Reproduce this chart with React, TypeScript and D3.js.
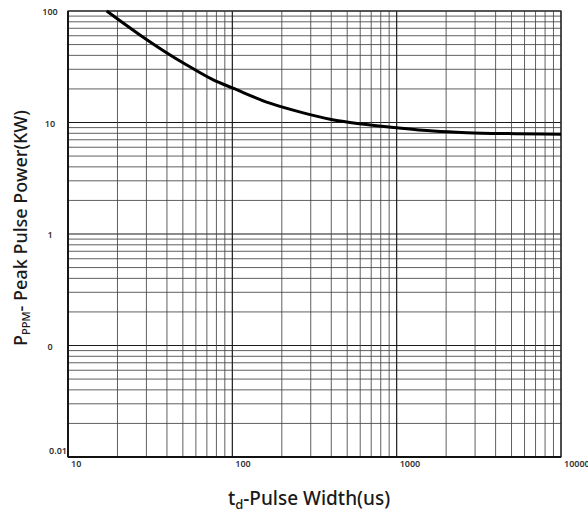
import React from 'react';
import * as d3 from 'd3';

// pulse width (us) vs peak pulse power (kW)
const pulseWidth = [17.2, 27.4, 38.9, 52.8, 76.6, 101, 169, 270, 393, 520, 1000, 1671, 2670, 5260, 10000];
const peakPower = [100, 61, 43.2, 32.8, 24.1, 20.3, 14.9, 12.2, 10.7, 10.0, 8.98, 8.39, 8.11, 7.94, 7.83];

const xTicks = [10, 100, 1000, 10000];
const xTickLabels = ['10', '100', '1000', '10000'];
const yTicks = [100, 10, 1, 0.1, 0.01];
const yTickLabels = ['100', '10', '1', '0', '0.01'];

const W = 588;
const H = 514;
const margin = { top: 11, right: 27, bottom: 57, left: 68 };

export default function App() {
  const x = d3.scaleLog().domain([10, 10000]).range([margin.left, W - margin.right]);
  const y = d3.scaleLog().domain([0.01, 100]).range([H - margin.bottom, margin.top]);

  // grid: 1..9 per decade
  const xGrid: { v: number; major: boolean }[] = [];
  [10, 100, 1000].forEach(d => {
    for (let k = 1; k < 10; k++) xGrid.push({ v: k * d, major: k === 1 });
  });
  xGrid.push({ v: 10000, major: true });

  const yGrid: { v: number; major: boolean }[] = [];
  [0.01, 0.1, 1, 10].forEach(d => {
    for (let k = 1; k < 10; k++) yGrid.push({ v: k * d, major: k === 1 });
  });
  yGrid.push({ v: 100, major: true });

  const pts = pulseWidth.map((p, i) => [x(p), y(peakPower[i])] as [number, number]);
  const path = d3.line().curve(d3.curveMonotoneX)(pts) || '';

  const [x0, x1] = x.range();
  const [y0, y1] = y.range();
  const font = '"Noto Sans", "DejaVu Sans", sans-serif';

  return (
    <svg width={W} height={H} style={{ position: 'absolute', left: 0, top: 0, background: '#fff' }}>
      {/* horizontal grid */}
      {yGrid.map((g, i) => (
        <line key={'h' + i} x1={x0} x2={x1} y1={y(g.v)} y2={y(g.v)}
          stroke={g.major ? '#1a1a1a' : '#444'} strokeOpacity={g.major ? 1 : 0.85}
          strokeWidth={g.major ? 1.2 : 1} />
      ))}
      {/* vertical grid */}
      {xGrid.map((g, i) => (
        <line key={'v' + i} x1={x(g.v)} x2={x(g.v)} y1={y0} y2={y1}
          stroke={g.major ? '#1a1a1a' : '#444'} strokeOpacity={g.major ? 1 : 0.85}
          strokeWidth={g.major ? 1.2 : 1} />
      ))}
      {/* frame */}
      <rect x={x0} y={y1} width={x1 - x0} height={y0 - y1} fill="none" stroke="#333" strokeWidth={1.2} />
      <line x1={x0} x2={x0} y1={y1} y2={y0} stroke="#111" strokeWidth={1.8} />
      <line x1={x0} x2={x1} y1={y0} y2={y0} stroke="#111" strokeWidth={1.8} />

      {/* curve */}
      <path d={path} fill="none" stroke="#000" strokeWidth={3} />

      {/* y tick labels */}
      {yTicks.map((t, i) => {
        const last = i === yTicks.length - 1;
        return (
          <text key={'yt' + i} x={last ? x0 - 1 : 50} y={y(t) + (last ? -5 : 2)}
            textAnchor={last ? 'end' : 'middle'} dominantBaseline="middle"
            fontFamily={font} fontSize={9} fontWeight={600} fill="#333">
            {yTickLabels[i]}
          </text>
        );
      })}
      {/* x tick labels */}
      {xTicks.map((t, i) => (
        <text key={'xt' + i} x={x(t) + 3} y={y0 + 8} dominantBaseline="middle"
          fontFamily={font} fontSize={9} fontWeight={600} fill="#333">
          {xTickLabels[i]}
        </text>
      ))}

      {/* x title */}
      <text x={309} y={505} textAnchor="middle" fontFamily={font} fontSize={19} fontWeight={500} fill="#1a1a1a">
        t<tspan fontSize={13} dy={4}>d</tspan><tspan dy={-4}>-Pulse Width(us)</tspan>
      </text>
      {/* y title */}
      <text transform={`translate(27,228) rotate(-90)`} textAnchor="middle"
        fontFamily={font} fontSize={18} fontWeight={500} fill="#1a1a1a">
        P<tspan fontSize={11} dy={3}>PPM</tspan><tspan dy={-3}>- Peak Pulse Power(KW)</tspan>
      </text>
    </svg>
  );
}
